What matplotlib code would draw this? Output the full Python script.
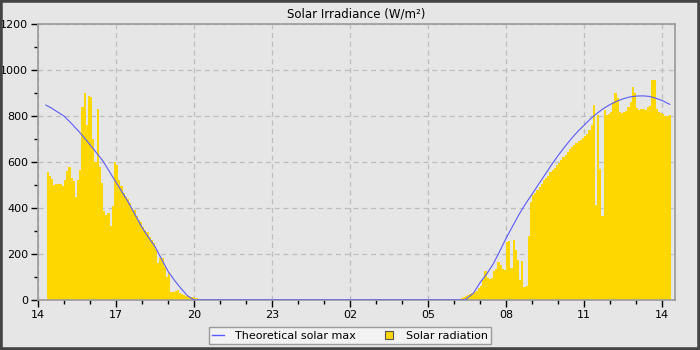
import numpy as np
import matplotlib
matplotlib.use("Agg")
import matplotlib.pyplot as plt
from matplotlib.lines import Line2D
from matplotlib.patches import Rectangle
from matplotlib.ticker import MultipleLocator

# 5-minute solar radiation readings (W/m2), afternoon of day 1 and morning of day 2
pm_start = "14:20"
pm_radiation = [556, 540, 525, 500, 504, 506, 504, 496, 522, 560,
                578, 530, 518, 450, 520, 565, 839, 900, 760, 887,
                885, 700, 600, 830, 578, 509, 387, 370, 380, 320,
                409, 600, 587, 522, 495, 465, 450, 440, 420, 400,
                390, 365, 350, 339, 317, 305, 296, 274, 260, 248,
                220, 160, 183, 183, 143, 100, 117, 35, 35, 40,
                43, 30, 28, 22, 17, 15, 13, 12, 9, 8]

am_start = "06:10"
am_radiation = [4, 10, 12, 17, 22, 27, 30, 36, 40, 51,
                60, 85, 125, 96, 90, 95, 128, 135, 165, 150,
                133, 132, 250, 258, 140, 261, 217, 174, 87, 170,
                55, 60, 280, 427, 456, 465, 478, 490, 505, 520,
                530, 540, 555, 565, 575, 585, 595, 608, 620, 632,
                645, 655, 667, 675, 683, 690, 697, 705, 712, 722,
                739, 761, 848, 413, 804, 568, 365, 826, 804, 810,
                819, 862, 899, 880, 819, 812, 818, 823, 841, 862,
                928, 900, 833, 826, 829, 829, 826, 838, 843, 957,
                957, 829, 819, 812, 808, 800, 802, 804]

# clear-sky maximum, every 15 minutes
theory_pm_times = ["14:18", "14:30", "14:45", "15:00", "15:15", "15:30", "15:45", "16:00",
                   "16:15", "16:30", "16:45", "17:00", "17:15", "17:30", "17:45", "18:00",
                   "18:15", "18:30", "18:45", "19:00", "19:15", "19:30", "19:45", "20:00"]
theory_pm = [848, 836, 818, 800, 772, 742, 710, 675, 640, 604, 558, 512,
             467, 420, 368, 315, 272, 232, 178, 125, 85, 50, 18, 0]

theory_am_times = ["06:25", "06:45", "07:00", "07:15", "07:30", "07:45", "08:00", "08:15",
                   "08:30", "08:45", "09:00", "09:15", "09:30", "09:45", "10:00", "10:15",
                   "10:30", "10:45", "11:00", "11:15", "11:30", "11:45", "12:00", "12:15",
                   "12:30", "12:45", "13:00", "13:15", "13:30", "13:45", "14:00", "14:18"]
theory_am = [0, 30, 75, 112, 155, 210, 268, 320, 372, 418, 460, 503, 545, 588, 628, 665,
             700, 732, 760, 788, 812, 833, 850, 864, 875, 883, 887, 888, 886, 878, 868, 851]

tick_hours = [14, 17, 20, 23, 26, 29, 32, 35, 38]
tick_labels = ["14", "17", "20", "23", "02", "05", "08", "11", "14"]


def to_hours(hhmm, next_day=False):
    h, m = hhmm.split(":")
    return int(h) + int(m) / 60 + (24 if next_day else 0)


step = 5 / 60
pm_x = to_hours(pm_start) + step * np.arange(len(pm_radiation))
am_x = to_hours(am_start, True) + step * np.arange(len(am_radiation))
th_x = [to_hours(t) for t in theory_pm_times] + [to_hours(t, True) for t in theory_am_times]
th_y = theory_pm + theory_am

bg = "#e6e6e6"
fig = plt.figure(figsize=(7, 3.5), dpi=100, facecolor=bg)
ax = fig.add_axes([0.0543, 0.143, 0.9100, 0.788], facecolor=bg)

bar_color = "#ffd700"
ax.bar(pm_x, pm_radiation, width=step, align="edge", color=bar_color, linewidth=0, zorder=2)
ax.bar(am_x, am_radiation, width=step, align="edge", color=bar_color, linewidth=0, zorder=2)
ax.plot(th_x, th_y, color="#5a5aff", linewidth=0.8, zorder=3)

ax.set_xlim(14, 38.5)
ax.set_ylim(0, 1200)
ax.set_xticks(tick_hours)
ax.set_xticklabels(tick_labels)
ax.xaxis.set_minor_locator(MultipleLocator(1))
ax.yaxis.set_major_locator(MultipleLocator(200))
ax.yaxis.set_minor_locator(MultipleLocator(100))
ax.tick_params(which="major", length=5, width=1, labelsize=8, color="black", pad=2)
ax.tick_params(which="minor", length=3, width=1, color="black")
ax.grid(True, which="major", linestyle=(0, (4, 3)), color="#bdbdbd", linewidth=0.9, zorder=0)
ax.set_axisbelow(True)
for s in ax.spines.values():
    s.set_color("#9a9a9a")
    s.set_linewidth(1.2)

ax.set_title("Solar Irradiance (W/m\u00b2)", fontsize=8.5, pad=5)

handles = [
    Line2D([], [], color="#5a5aff", linewidth=1),
    Line2D([], [], linestyle="none", marker="s", markersize=6,
           markerfacecolor=bar_color, markeredgecolor="#555555", markeredgewidth=0.8),
]
leg = fig.legend(handles, ["Theoretical solar max", "Solar radiation"], loc="lower center",
                 bbox_to_anchor=(0.5, 0.0), ncol=2, fontsize=8, frameon=True, fancybox=False,
                 handlelength=1.0, columnspacing=2.5, borderpad=0.35, handletextpad=1.0)
leg.get_frame().set_edgecolor("#9a9a9a")
leg.get_frame().set_facecolor("#f2f2f2")
leg.get_frame().set_alpha(1)

# dark outer frame
fig.patches.append(Rectangle((0, 0), 1, 1, transform=fig.transFigure, fill=False,
                             edgecolor="#444444", linewidth=4, zorder=10))

fig.savefig("out.png", dpi=100, facecolor=bg)
